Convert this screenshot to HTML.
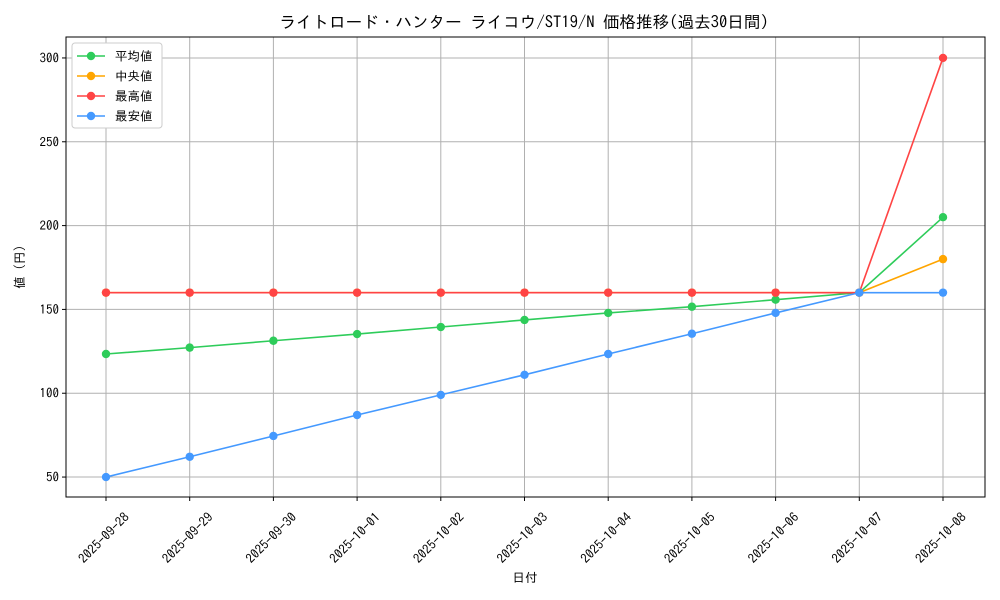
<!DOCTYPE html>
<html><head><meta charset="utf-8"><style>
html,body{margin:0;padding:0;background:#fff;}
svg{display:block;font-family:"IPAGothic","Noto Sans CJK JP",monospace;}
</style></head><body>
<svg id="chart" width="1000" height="600" viewBox="0 0 1000 600">
<rect width="1000" height="600" fill="#fff"/>
<text x="524" y="28" text-anchor="middle" font-size="16.6" fill="#000">ライトロード・ハンター ライコウ/ST19/N 価格推移(過去30日間)</text>
<g id="grid"></g>
<g id="axes"></g>
<g id="series"></g>
<text x="525" y="582" text-anchor="middle" font-size="12.5">日付</text>
<text transform="translate(24,267) rotate(-90)" text-anchor="middle" font-size="12.5">値 (円)</text>
<g id="legend"></g>
</svg>
<script>
const categories=["2025-09-28","2025-09-29","2025-09-30","2025-10-01","2025-10-02","2025-10-03","2025-10-04","2025-10-05","2025-10-06","2025-10-07","2025-10-08"];
const avgValues=[123.4,127.2,131.3,135.3,139.5,143.7,147.9,151.6,155.8,160,205];
const medianValues=[160,160,160,160,160,160,160,160,160,160,180];
const maxValues=[160,160,160,160,160,160,160,160,160,160,300];
const minValues=[50,62.1,74.5,87,99,111,123.4,135.5,147.9,160,160];
const yTicks=[50,100,150,200,250,300];
const seriesNames=["平均値","中央値","最高値","最安値"];
const seriesColors=["#2ecc5a","#ffa500","#ff4444","#4499ff"];

const NS="http://www.w3.org/2000/svg";
const L=66,R=985,T=37,B=497;
const yMin=38.1,yMax=312.5;
const x=i=>106+i*(943-106)/(categories.length-1);
const y=v=>B-(v-yMin)/(yMax-yMin)*(B-T);
function mk(tag,attrs,parent){const e=document.createElementNS(NS,tag);for(const k in attrs)e.setAttribute(k,attrs[k]);parent.appendChild(e);return e;}
const grid=document.getElementById('grid'),axes=document.getElementById('axes'),ser=document.getElementById('series'),leg=document.getElementById('legend');
categories.forEach((c,i)=>{
  const g=mk('line',{x1:x(i),x2:x(i),y1:T,y2:B,stroke:'#b0b0b0','stroke-width':1},grid);
  
  
  mk('line',{x1:x(i),x2:x(i),y1:B,y2:B+4,stroke:'#000'},axes);
  const ax=x(i)+24, ay=B+21;
  const t=mk('text',{x:ax,y:ay,'font-size':13,'text-anchor':'end',transform:`rotate(-45 ${ax} ${ay})`},axes);
  t.textContent=c;
  
  
});
yTicks.forEach(v=>{
  const g=mk('line',{x1:L,x2:R,y1:y(v),y2:y(v),stroke:'#b0b0b0','stroke-width':1},grid);
  
  
  mk('line',{x1:L-4,x2:L,y1:y(v),y2:y(v),stroke:'#000'},axes);
  const t=mk('text',{x:L-7,y:y(v)+4.5,'font-size':13,'text-anchor':'end'},axes);
  t.textContent=v;
  
  
});
const frame=mk('rect',{x:L,y:T,width:R-L,height:B-T,fill:'none',stroke:'#000','stroke-width':1},axes);


[avgValues,medianValues,maxValues,minValues].forEach((vals,s)=>{
  const g=mk('g',{},ser);
  
  
  mk('polyline',{points:vals.map((v,i)=>x(i)+','+y(v)).join(' '),fill:'none',stroke:seriesColors[s],'stroke-width':1.6},g);
  vals.forEach((v,i)=>{
    const c=mk('circle',{cx:x(i),cy:y(v),r:4.2,fill:seriesColors[s]},g);
    
    
  });
});
const box=mk('rect',{x:72,y:43,width:90,height:85,fill:'#fff',stroke:'#ccc',rx:3},leg);


seriesNames.forEach((n,i)=>{
  const yy=56+i*20;
  const g=mk('g',{},leg);
  
  
  mk('line',{x1:77,x2:105,y1:yy,y2:yy,stroke:seriesColors[i],'stroke-width':1.6},g);
  mk('circle',{cx:91,cy:yy,r:4.2,fill:seriesColors[i]},g);
  const t=mk('text',{x:115,y:yy+4.5,'font-size':12.5},g);
  t.textContent=n;
});
</script>
</body></html>
